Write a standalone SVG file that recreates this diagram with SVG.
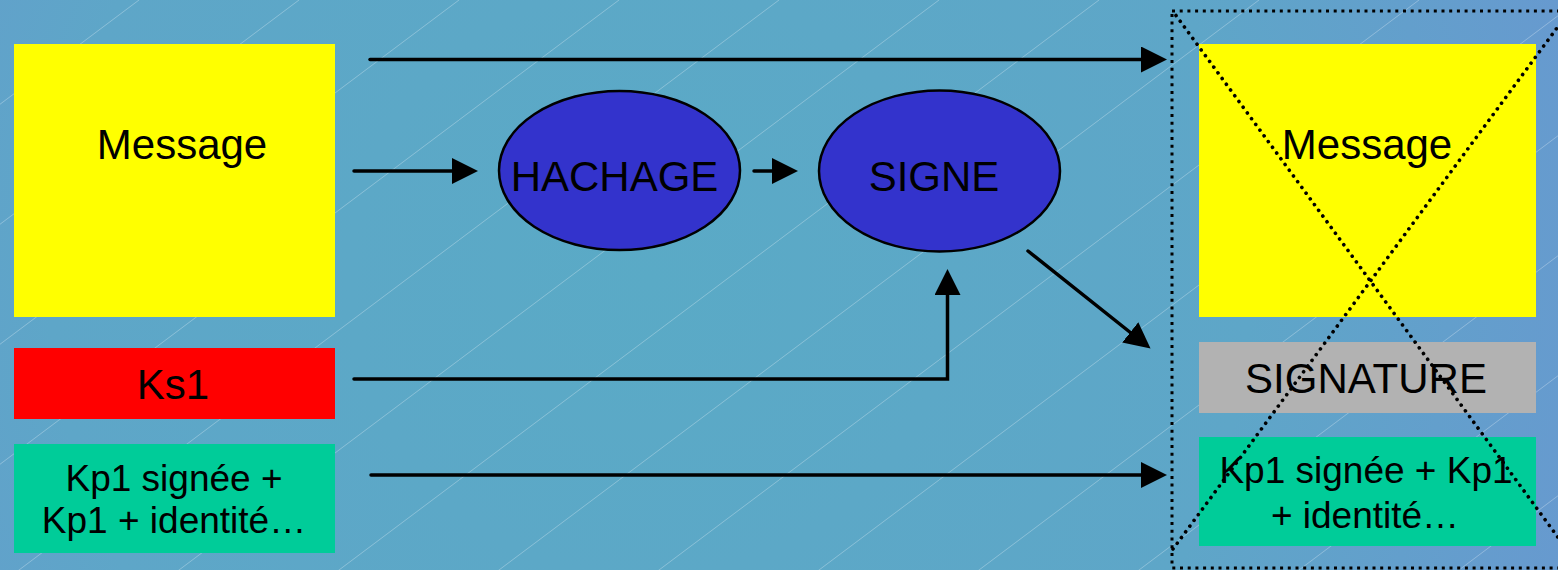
<svg xmlns="http://www.w3.org/2000/svg" width="1558" height="570" viewBox="0 0 1558 570">
  <defs>
    <radialGradient id="bg" cx="650" cy="280" r="1000" gradientUnits="userSpaceOnUse">
      <stop offset="0" stop-color="#5aaac6"/>
      <stop offset="0.6" stop-color="#5ea6c8"/>
      <stop offset="1" stop-color="#6898d0"/>
    </radialGradient>
    <pattern id="hatch" patternUnits="userSpaceOnUse" x="-21" y="0" width="160" height="120">
      <line x1="0" y1="120" x2="160" y2="0" stroke="#ffffff" stroke-opacity="0.28" stroke-width="1"/>
    </pattern>
    <marker id="head" markerUnits="userSpaceOnUse" markerWidth="26" markerHeight="26" viewBox="0 0 26 26" refX="1" refY="13" orient="auto">
      <path d="M0,0 L26,13 L0,26 z" fill="#000"/>
    </marker>
  </defs>
  <style>
    .lbl { font-family: "Liberation Sans", Arial, sans-serif; fill: #000; text-anchor: middle; }
    .big { font-size: 42px; }
    .small { font-size: 37px; }
    .ell { fill: #3333cc; stroke: #000; stroke-width: 2.5; }
    .conn { fill: none; stroke: #000; stroke-width: 3.5; stroke-linecap: round; stroke-linejoin: miter; }
    .frame { fill: none; stroke: #000; stroke-width: 3; stroke-dasharray: 3 4.7; }
    .cross { fill: none; stroke: #000; stroke-width: 3.6; stroke-linecap: round; stroke-dasharray: 0.1 7; }
  </style>

  <!-- background -->
  <rect width="1558" height="570" fill="url(#bg)"/>
  <rect width="1558" height="570" fill="url(#hatch)"/>

  <!-- sender side -->
  <g id="message-src">
    <rect x="14" y="44" width="321" height="273" fill="#ffff00"/>
    <text class="lbl big" x="182" y="159">Message</text>
  </g>
  <g id="ks1">
    <rect x="14" y="348" width="321" height="71" fill="#ff0000"/>
    <text class="lbl big" x="173" y="399">Ks1</text>
  </g>
  <g id="kp1-src">
    <rect x="14" y="444" width="321" height="109" fill="#00cc99"/>
    <text class="lbl small" x="174" y="491">Kp1 signée +</text>
    <text class="lbl small" x="174" y="533">Kp1 + identité…</text>
  </g>

  <!-- processing -->
  <g id="hachage">
    <ellipse class="ell" cx="619.5" cy="170.5" rx="120.5" ry="79.5"/>
    <text class="lbl big" x="614.5" y="191">HACHAGE</text>
  </g>
  <g id="signe">
    <ellipse class="ell" cx="939.5" cy="171" rx="120.5" ry="80.5"/>
    <text class="lbl big" x="934" y="191">SIGNE</text>
  </g>

  <!-- sent bundle -->
  <g id="message-dst">
    <rect x="1199" y="44" width="337" height="273" fill="#ffff00"/>
    <text class="lbl big" x="1367" y="159">Message</text>
  </g>
  <g id="signature">
    <rect x="1199" y="342" width="337" height="71" fill="#b2b2b2"/>
    <text class="lbl big" x="1366" y="393">SIGNATURE</text>
  </g>
  <g id="kp1-dst">
    <rect x="1199" y="437" width="337" height="109" fill="#00cc99"/>
    <text class="lbl small" x="1366" y="483">Kp1 signée + Kp1</text>
    <text class="lbl small" x="1365" y="528">+ identité…</text>
  </g>
  <g id="bundle-frame">
    <rect class="frame" x="1172" y="11" width="420" height="557"/>
    <line class="cross" x1="1176" y1="15.5" x2="1568" y2="551"/>
    <line class="cross" x1="1173" y1="549" x2="1568" y2="13"/>
  </g>

  <!-- connectors -->
  <g id="connectors">
    <line class="conn" x1="370" y1="59.5" x2="1142" y2="59.5" marker-end="url(#head)"/>
    <line class="conn" x1="354" y1="171" x2="453" y2="171" marker-end="url(#head)"/>
    <line class="conn" x1="754" y1="171" x2="773" y2="171" marker-end="url(#head)"/>
    <polyline class="conn" points="354,379 947.5,379 947.5,294" marker-end="url(#head)"/>
    <line class="conn" x1="1028" y1="251" x2="1131" y2="333" marker-end="url(#head)"/>
    <line class="conn" x1="371" y1="475" x2="1142" y2="475" marker-end="url(#head)"/>
  </g>
</svg>
